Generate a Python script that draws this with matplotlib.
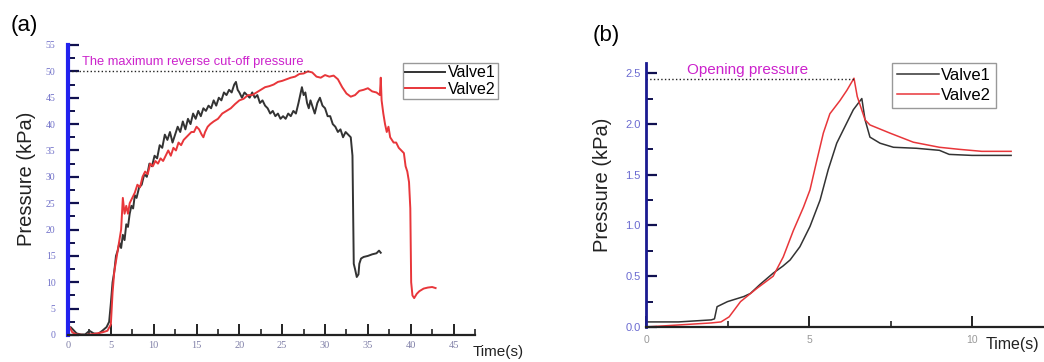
import matplotlib
matplotlib.use("Agg")
import matplotlib.pyplot as plt
from matplotlib.ticker import MultipleLocator

# ---------------- data (a) ----------------
t1_a = [0, 0.3, 0.6, 1.0, 1.5, 2.0, 2.5, 3.0, 3.5, 4.0, 4.5, 4.8, 5.0, 5.2, 5.4, 5.6, 5.8, 6.0, 6.2, 6.4,
        6.6, 6.8, 7.0, 7.2, 7.4, 7.6, 7.8, 8.0, 8.3, 8.6, 8.9, 9.2, 9.5, 9.8, 10.1, 10.4, 10.7, 11.0, 11.3,
        11.6, 11.9, 12.2, 12.5, 12.8, 13.1, 13.4, 13.7, 14.0, 14.3, 14.6, 14.9, 15.2, 15.5, 15.8, 16.1, 16.4,
        16.7, 17.0, 17.3, 17.6, 17.9, 18.2, 18.5, 18.8, 19.1, 19.4, 19.6, 19.8, 20.0, 20.3, 20.6, 20.9, 21.2,
        21.5, 21.8, 22.1, 22.4, 22.7, 23.0, 23.3, 23.6, 23.9, 24.2, 24.5, 24.8, 25.1, 25.4, 25.7, 26.0, 26.3,
        26.6, 26.9, 27.1, 27.3, 27.5, 27.7, 27.9, 28.1, 28.3, 28.5, 28.8, 29.1, 29.4, 29.7, 30.0, 30.3, 30.6,
        30.9, 31.2, 31.5, 31.8, 32.1, 32.4, 32.7, 33.0, 33.2, 33.3, 33.35, 33.5, 33.7, 33.9, 34.0, 34.2, 34.5,
        35.0, 35.5, 36.0, 36.3, 36.5]
p1_a = [0.5, 1.5, 1.0, 0.3, 0.1, 0.1, 0.8, 0.3, 0.2, 0.8, 1.5, 2.5, 6, 10, 12, 15, 16, 17.5, 16.5, 19,
        18, 21, 20.5, 23, 24.5, 24, 26.5, 26, 28, 28.5, 30.5, 30, 32.5, 32, 34, 33.5, 36, 35.5, 38,
        37, 38.5, 36.5, 38, 39.5, 38.5, 40.5, 39, 41, 40, 42, 41, 42.5, 41.5, 43, 42.5, 43.5,
        43, 44.5, 43.5, 45, 44.5, 46, 45.5, 46.5, 46, 47.5, 48, 46.5, 46, 45, 46, 45.5, 45,
        46, 45, 45.5, 44, 44.5, 43.5, 43, 42, 42.5, 41.5, 42, 41, 41.5, 41, 42, 41.5, 42.5,
        42, 44, 45.5, 47, 45.5, 46, 44, 43, 44.5, 43.5, 42, 44, 45, 43.5, 43, 41.5, 41.5,
        40, 39.5, 38.5, 39, 37.5, 38.5, 38, 37.5, 34, 20, 13.5, 12.5, 11, 11.5, 13.5, 14.5, 14.8,
        15, 15.3, 15.5, 16, 15.6]

t2_a = [0, 0.2, 0.5, 1.0, 2.0, 3.0, 4.0, 4.6, 5.0, 5.2, 5.4, 5.6, 5.8, 6.0, 6.2, 6.4, 6.6, 6.8, 7.0, 7.2,
        7.5, 7.8, 8.1, 8.4, 8.7, 9.0, 9.3, 9.6, 9.9, 10.2, 10.5, 10.8, 11.1, 11.4, 11.7, 12.0, 12.3, 12.6,
        12.9, 13.2, 13.5, 13.8, 14.1, 14.4, 14.7, 15.0, 15.3, 15.6, 15.8, 16.0, 16.3, 16.6, 17.0, 17.5, 18.0,
        18.5, 19.0, 19.5, 20.0, 20.5, 21.0, 21.5, 22.0, 22.5, 23.0, 23.5, 24.0, 24.5, 25.0, 25.5, 26.0, 26.5,
        27.0, 27.5, 28.0, 28.5, 29.0, 29.5, 30.0, 30.5, 31.0, 31.5, 32.0, 32.5, 33.0, 33.5, 34.0, 34.5, 35.0,
        35.5, 36.0, 36.4, 36.5, 36.6, 36.8, 37.0, 37.2, 37.4, 37.6, 37.8, 38.0, 38.3, 38.6, 38.9, 39.2, 39.4,
        39.6, 39.8, 39.95, 40.05, 40.2, 40.4, 40.7, 41.0, 41.5, 42.0, 42.5, 42.9]
p2_a = [0.5, 1.5, 0.5, 0.1, 0.0, 0.2, 0.5, 0.8, 2, 8, 12, 14, 16, 18, 20, 26, 23, 24.5, 23, 25,
        26, 27, 28.5, 28, 30, 31, 30.5, 32.5, 32, 33, 32.5, 33.5, 33, 34, 35, 34, 35.5, 35,
        36.5, 36, 37, 37.5, 38, 38.5, 38.5, 39.5, 39, 38, 37.5, 38.5, 39.5, 40, 40.5, 41, 42,
        42.5, 43, 43.8, 44.5, 44.8, 45.5, 45.5, 46, 46.5, 47, 47.2, 47.5, 48, 48.2, 48.5, 48.8, 49,
        49.5, 49.6, 50, 49.8, 49, 48.8, 49.3, 49.0, 49.2, 48.5, 47, 45.8, 45.2, 45.5, 46.3, 46.5, 46.8,
        46.2, 46, 45.5, 48.8, 44.5, 42, 40, 38.5, 39.5, 37.5, 37, 36.5, 36.5, 35.5, 35, 34.5, 32,
        31, 29, 24, 10, 7.5, 7.0, 7.8, 8.3, 8.8, 9.0, 9.1, 8.9]

cutoff_pressure = 50
cutoff_end = 28

# ---------------- data (b) ----------------
t1_b = [0, 0.5, 1.0, 1.5, 2.0, 2.1, 2.18, 2.5, 3.0, 3.2, 3.5, 3.9, 4.2, 4.42, 4.72, 5.03, 5.34, 5.59, 5.85,
        6.05, 6.36, 6.62, 6.72, 6.87, 7.18, 7.59, 8.3, 9.0, 9.3, 10.0, 10.6, 11.2]
p1_b = [0.05, 0.05, 0.05, 0.06, 0.07, 0.08, 0.2, 0.25, 0.3, 0.33, 0.42, 0.53, 0.6, 0.66, 0.79, 0.99, 1.25, 1.55, 1.81,
        1.94, 2.14, 2.25, 2.04, 1.87, 1.81, 1.77, 1.76, 1.74, 1.70, 1.69, 1.69, 1.69]

t2_b = [0, 0.5, 1.0, 1.5, 2.0, 2.3, 2.55, 2.9, 3.4, 3.9, 4.21, 4.52, 4.83, 5.03, 5.24, 5.44, 5.64, 5.95, 6.16,
        6.38, 6.48, 6.72, 6.87, 7.48, 8.2, 9.0, 9.6, 10.3, 11.2]
p2_b = [0.0, 0.01, 0.02, 0.03, 0.04, 0.05, 0.1, 0.25, 0.38, 0.5, 0.69, 0.95, 1.18, 1.35, 1.64, 1.91, 2.10, 2.23, 2.33,
        2.45, 2.27, 2.04, 1.99, 1.91, 1.82, 1.77, 1.75, 1.73, 1.73]

opening_pressure = 2.44
opening_end = 6.38

BLACK = '#333333'
RED = '#e8363a'
MAG = '#cc22cc'

fig = plt.figure(figsize=(10.44, 3.62), dpi=100)
fig.patch.set_facecolor('white')

def style_axes(ax, yspine_color, ylw, xlabcolor, ylabcolor, ysize, xsize, yfont, ypad, xpad):
    for s in ('top', 'right'):
        ax.spines[s].set_visible(False)
    ax.spines['left'].set_color(yspine_color)
    ax.spines['left'].set_linewidth(ylw)
    ax.spines['bottom'].set_color('#222222')
    ax.spines['bottom'].set_linewidth(1.6)
    ax.tick_params(axis='y', which='both', direction='in', colors='#101050', labelcolor=ylabcolor,
                   labelsize=ysize, pad=ypad)
    ax.tick_params(axis='y', which='major', length=8, width=1.6)
    ax.tick_params(axis='y', which='minor', length=5, width=1.4)
    ax.tick_params(axis='x', which='both', direction='in', colors='#222222', labelcolor=xlabcolor,
                   labelsize=xsize, pad=xpad)
    ax.tick_params(axis='x', which='major', length=8, width=1.4)
    ax.tick_params(axis='x', which='minor', length=4, width=1.2)
    for lab in ax.get_yticklabels() + ax.get_xticklabels():
        lab.set_family(yfont)

# ---------------- panel (a) ----------------
axa = fig.add_axes([68/1044, 1-335/362, (475-68)/1044, (335-45)/362])
axa.plot(t1_a, p1_a, color=BLACK, lw=1.4, label='Valve1')
axa.plot(t2_a, p2_a, color=RED, lw=1.4, label='Valve2')
axa.plot([0, cutoff_end], [cutoff_pressure, cutoff_pressure], color='#222222', ls=':', lw=1.0)
axa.text(1.6, cutoff_pressure + 0.6, 'The maximum reverse cut-off pressure', color=MAG,
         fontsize=9.3, family='Liberation Sans', va='bottom', ha='left')
axa.set_xlim(0, 47.5)
axa.set_ylim(0, 55)
axa.xaxis.set_major_locator(MultipleLocator(5))
axa.xaxis.set_minor_locator(MultipleLocator(2.5))
axa.yaxis.set_major_locator(MultipleLocator(5))
axa.yaxis.set_minor_locator(MultipleLocator(2.5))
axa.set_xticks([0, 5, 10, 15, 20, 25, 30, 35, 40, 45])
style_axes(axa, '#2222ee', 3.0, '#8080a8', '#7070c8', 7, 7.5, 'Liberation Serif', 9, 4)
axa.legend(loc='upper left', bbox_to_anchor=(403/1044, 1-63/362), bbox_transform=fig.transFigure,
           borderaxespad=0, frameon=True, fancybox=False, edgecolor='#999999', framealpha=1,
           prop={'family': 'Liberation Sans', 'size': 11.5}, handlelength=2.5, handletextpad=0.15,
           borderpad=0.15, labelspacing=0.1)
axa.get_legend().get_frame().set_linewidth(1.0)

fig.text(24/1044, 1-26/362, '(a)', fontsize=16, family='Liberation Sans', ha='center', va='center')
fig.text(27/1044, 1-179/362, 'Pressure (kPa)', rotation=90, fontsize=14.5, family='Liberation Sans',
         ha='center', va='center', color='#222222')
fig.text(473/1044, 1-352/362, 'Time(s)', fontsize=11, family='Liberation Sans', ha='left', va='center',
         color='#222222')

# ---------------- panel (b) ----------------
axb = fig.add_axes([646/1044, 1-327/362, (1044-646)/1044, (327-63)/362])
axb.plot(t1_b, p1_b, color=BLACK, lw=1.1, label='Valve1')
axb.plot(t2_b, p2_b, color=RED, lw=1.1, label='Valve2')
axb.plot([0, opening_end], [opening_pressure, opening_pressure], color='#222222', ls=':', lw=1.0)
axb.text(1.25, opening_pressure + 0.02, 'Opening pressure', color=MAG,
         fontsize=11, family='Liberation Sans', va='bottom', ha='left')
axb.set_xlim(0, (1044-646)/32.6)
axb.set_ylim(0, 2.6)
axb.xaxis.set_major_locator(MultipleLocator(5))
axb.xaxis.set_minor_locator(MultipleLocator(2.5))
axb.yaxis.set_major_locator(MultipleLocator(0.5))
axb.yaxis.set_minor_locator(MultipleLocator(0.25))
axb.set_yticks([0.0, 0.5, 1.0, 1.5, 2.0, 2.5])
axb.set_yticklabels(['0.0', '0.5', '1.0', '1.5', '2.0', '2.5'])
style_axes(axb, '#1a1a90', 2.0, '#999999', '#6a6ad0', 8, 7.5, 'Liberation Sans', 4, 6)
axb.legend(loc='upper left', bbox_to_anchor=(892/1044, 1-63/362), bbox_transform=fig.transFigure,
           borderaxespad=0, frameon=True, fancybox=False, edgecolor='#999999', framealpha=1,
           prop={'family': 'Liberation Sans', 'size': 12}, handlelength=2.5, handletextpad=0.15,
           borderpad=0.3, labelspacing=0.3)
axb.get_legend().get_frame().set_linewidth(1.0)

fig.text(606/1044, 1-36/362, '(b)', fontsize=16, family='Liberation Sans', ha='center', va='center')
fig.text(603/1044, 1-185/362, 'Pressure (kPa)', rotation=90, fontsize=14.5, family='Liberation Sans',
         ha='center', va='center', color='#222222')
fig.text(986/1044, 1-344/362, 'Time(s)', fontsize=11.5, family='Liberation Sans', ha='left', va='center',
         color='#222222')

fig.savefig('out.png', dpi=100, facecolor='white')
